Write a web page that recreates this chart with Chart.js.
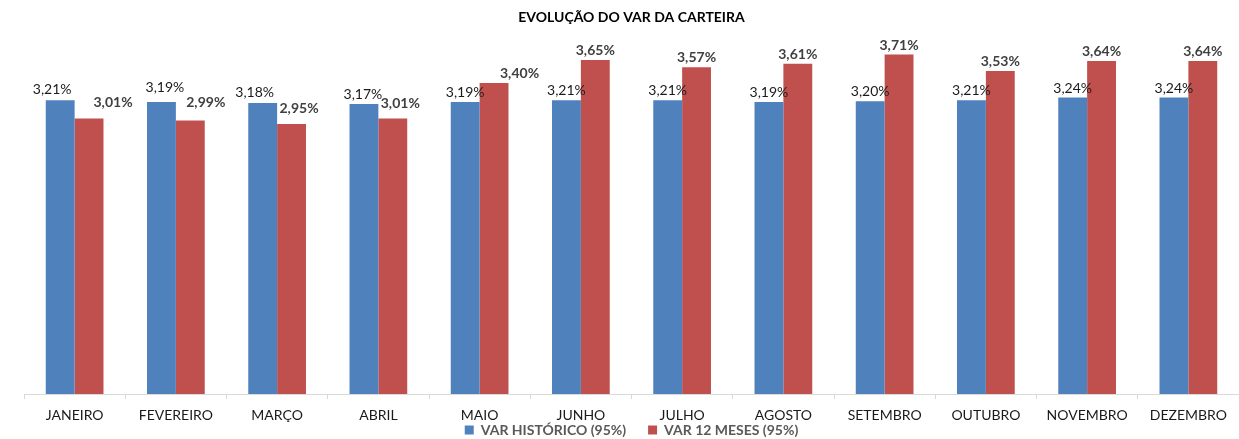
<!DOCTYPE html>
<html lang="pt-BR">
<head>
<meta charset="utf-8">
<title>Evolução do VaR da Carteira</title>
<script src="https://cdn.jsdelivr.net/npm/chart.js@4.4.1/dist/chart.umd.min.js"></script>
<style>
  html, body { margin: 0; padding: 0; background: #fff; }
  #wrap { width: 1239px; height: 439px; }
</style>
</head>
<body>
<div id="wrap"><canvas id="chart-canvas" width="1239" height="439"></canvas></div>
<script>
// Dados do gráfico
const months = ['JANEIRO', 'FEVEREIRO', 'MARÇO', 'ABRIL', 'MAIO', 'JUNHO',
                'JULHO', 'AGOSTO', 'SETEMBRO', 'OUTUBRO', 'NOVEMBRO', 'DEZEMBRO'];
const varHistorico = [3.21, 3.19, 3.18, 3.17, 3.19, 3.21, 3.21, 3.19, 3.20, 3.21, 3.24, 3.24];
const var12Meses = [3.01, 2.99, 2.95, 3.01, 3.40, 3.65, 3.57, 3.61, 3.71, 3.53, 3.64, 3.64];
const seriesNames = ['VAR HISTÓRICO (95%)', 'VAR 12 MESES (95%)'];

// Cores (paleta padrão do Excel)
const colors = ['#4F81BD', '#C0504D'];
const labelColors = ['#1a1a1a', '#404040'];
const labelWeights = ['normal', 'bold'];

// Rótulos movidos à mão na planilha original (em px)
const labelDx = [
    [-8, 3.5, -8, -1, 0, 0, 0, 0, 0, 0, 0, 0],
    [24, 15.5, 7.5, 7.5, 25.5, 0, 0, 0, 0, 0, 0, 0]
];
const labelDy = [
    [-1, -5, -1, 0, 0, 0, 0, 0, 0, 0, 0, 0],
    [-7, -8, -6, -6, 0, 0, 0, 0, 0, 0, 0, 0]
];

const fmt = v => v.toFixed(2).replace('.', ',') + '%';

// Plugin simples para escrever os valores em cima das barras
const barLabels = {
    id: 'barLabels',
    afterDatasetsDraw(chart) {
        const ctx = chart.ctx;
        ctx.save();
        ctx.textAlign = 'center';
        ctx.textBaseline = 'alphabetic';
        chart.data.datasets.forEach((ds, di) => {
            const meta = chart.getDatasetMeta(di);
            ctx.font = `${labelWeights[di]} 14px Lato`;
            ctx.fillStyle = labelColors[di];
            meta.data.forEach((bar, i) => {
                ctx.fillText(fmt(ds.data[i]), bar.x + labelDx[di][i], bar.y - 5 + labelDy[di][i]);
            });
        });
        ctx.restore();
    }
};

// A legenda fica colada nos rótulos do eixo x, como no Excel
const legendPad = 22;
const legendCenterY = 430;
const moveLegend = {
    id: 'moveLegend',
    afterLayout(chart) {
        const lg = chart.legend;
        if (!lg) return;
        const top = legendCenterY - 7 - legendPad;
        lg.bottom = top + lg.height;
        lg.top = top;
    }
};

const canvas = document.getElementById('chart-canvas');

new Chart(canvas.getContext('2d'), {
    type: 'bar',
    data: {
        labels: months,
        datasets: seriesNames.map((name, i) => ({
            label: name,
            data: i === 0 ? varHistorico : var12Meses,
            backgroundColor: colors[i],
            borderWidth: 0,
            categoryPercentage: 0.57,
            barPercentage: 1.0
        }))
    },
    options: {
        responsive: false,
        animation: false,
        layout: { padding: { left: 24, right: 0, top: 0, bottom: -(394 + 30 + 24 + legendPad - 439) } },
        scales: {
            x: {
                grid: {
                    display: true,
                    drawOnChartArea: false,
                    drawTicks: true,
                    tickLength: 5,
                    color: '#d9d9d9',
                    offset: true
                },
                border: { display: true, color: '#d9d9d9', width: 1 },
                ticks: {
                    padding: 8,
                    color: '#1a1a1a',
                    font: { family: 'Lato', size: 14 }
                },
                afterFit(scale) {
                    scale.height = 30;
                }
            },
            y: {
                display: false,
                min: 0,
                max: 4
            }
        },
        plugins: {
            title: {
                display: true,
                text: 'EVOLUÇÃO DO VAR DA CARTEIRA',
                color: '#000',
                font: { family: 'Lato', size: 14, weight: 'bold' },
                padding: { top: 8.6, bottom: 2.6 }
            },
            legend: {
                position: 'bottom',
                labels: {
                    boxWidth: 9,
                    boxHeight: 9,
                    padding: legendPad,
                    color: '#595959',
                    font: { family: 'Lato', size: 14, weight: 'bold' }
                }
            },
            tooltip: { enabled: false }
        }
    },
    plugins: [barLabels, moveLegend]
});
</script>
</body>
</html>
